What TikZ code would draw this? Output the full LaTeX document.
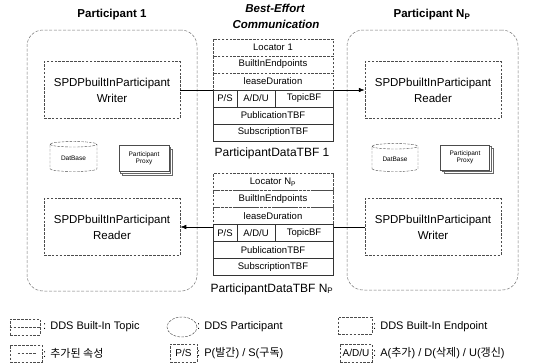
\documentclass[tikz,border=0pt]{standalone}
\usepackage{fontspec}
\setmainfont{Liberation Sans}
\newfontfamily\kr{Noto Sans CJK KR}
\usetikzlibrary{shapes.geometric,shadows,arrows.meta}

\begin{document}
\begin{tikzpicture}[x=1pt,y=-1pt,
  dsh/.style={dash pattern=on 2.6pt off 1.3pt},
  part/.style={draw=black!55, dash pattern=on 3pt off 1.6pt, rounded corners=16pt,
    line width=0.5pt, inner sep=0pt},
  endpt/.style={draw=black!70, dsh, line width=0.5pt, minimum width=136pt,
    minimum height=57pt, inner sep=0pt, align=center,
    font=\fontsize{11.5}{16}\selectfont},
  cellbase/.style={line width=0.45pt, minimum height=17pt, inner sep=0pt,
    fill=white, font=\fontsize{9.5}{11}\selectfont},
  topiccell/.style={cellbase, draw=black!70, dsh},
  addcell/.style={cellbase, draw=black!80},
  wide/.style={minimum width=120pt},
  title/.style={font=\fontsize{11.5}{13}\selectfont\bfseries},
  small/.style={font=\fontsize{6.5}{7.5}\selectfont, align=center},
  lgtext/.style={anchor=west, inner sep=0pt, font=\fontsize{11}{13}\selectfont},
  lgicon/.style={draw=black!70, dsh, line width=0.45pt, inner sep=0pt},
  conn/.style={line width=0.6pt, -{Latex[length=6pt,width=4.5pt]}}
]
\useasboundingbox (0,0) rectangle (541,364);

% ---- headings
\node[title] (h1) at (112,15) {Participant 1};
\node[title] (h2) at (432,15) {Participant N\textsubscript{P}};
\node[title, font=\fontsize{11.5}{13}\selectfont\bfseries\itshape] (hb1) at (275,8) {Best-Effort};
\node[title, font=\fontsize{11.5}{13}\selectfont\bfseries\itshape] (hb2) at (276,24) {Communication};

% ---- participants
\node[part, minimum width=170pt, minimum height=261pt] (p1) at (112,160.5) {};
\node[part, minimum width=171pt, minimum height=260pt] (p2) at (432.5,160) {};

% ---- built-in endpoints
\node[endpt] (lw) at (112,90)  {SPDPbuiltInParticipant\\Writer};
\node[endpt] (lr) at (112,227) {SPDPbuiltInParticipant\\Reader};
\node[endpt] (rr) at (433,90)  {SPDPbuiltInParticipant\\Reader};
\node[endpt] (rw) at (433,227) {SPDPbuiltInParticipant\\Writer};

% ---- database and proxy inside each participant
\node[cylinder, shape border rotate=90, aspect=0.22, draw=black!70, dsh,
  minimum width=47pt, minimum height=30pt, inner sep=0pt, small] (db1) at (73.5,158) {DatBase};
\node[cylinder, shape border rotate=90, aspect=0.22, draw=black!70, dsh,
  minimum width=46pt, minimum height=28pt, inner sep=0pt, small] (db2) at (395,159) {DatBase};
\node[draw=black!70, fill=white, minimum width=50pt, minimum height=26pt, inner sep=0pt, small,
  double copy shadow={shadow xshift=1.6pt, shadow yshift=-1.6pt, draw=black!60, fill=white}]
  (px1) at (144,158.5) {Participant\\Proxy};
\node[draw=black!70, fill=white, minimum width=49pt, minimum height=25pt, inner sep=0pt, small,
  double copy shadow={shadow xshift=1.6pt, shadow yshift=-1.6pt, draw=black!60, fill=white}]
  (px2) at (465,157.5) {Participant\\Proxy};

% ---- connectors (drawn first, the tables cover them)
\draw[conn] (lw.east) -- (rr.west);
\draw[conn] (rw.west) -- (lr.east);

% ---- ParticipantDataTBF 1
\node[topiccell, wide] (a1) at (273,47.5)  {Locator 1};
\node[topiccell, wide] (a2) at (273,64.5)  {BuiltInEndpoints};
\node[topiccell, wide] (a3) at (273,81.5)  {leaseDuration};
\node[addcell, minimum width=24pt] (a4) at (225,98.5) {P/S};
\node[addcell, minimum width=38pt] (a5) at (256,98.5) {A/D/U};
\node[addcell, minimum width=58pt] (a6) at (304,98.5) {TopicBF};
\node[addcell, wide] (a7) at (273,115.5) {PublicationTBF};
\node[addcell, wide] (a8) at (273,132.5) {SubscriptionTBF};
\node[font=\fontsize{12}{14}\selectfont] (la) at (272,153) {ParticipantDataTBF 1};

% ---- ParticipantDataTBF N_P
\node[topiccell, wide] (b1) at (273,182)  {Locator N\textsubscript{P}};
\node[topiccell, wide] (b2) at (273,199)  {BuiltInEndpoints};
\node[topiccell, wide] (b3) at (273,216)  {leaseDuration};
\node[addcell, minimum width=24pt] (b4) at (225,233) {P/S};
\node[addcell, minimum width=38pt] (b5) at (256,233) {A/D/U};
\node[addcell, minimum width=58pt] (b6) at (304,233) {TopicBF};
\node[addcell, wide] (b7) at (273,250) {PublicationTBF};
\node[addcell, wide] (b8) at (273,267) {SubscriptionTBF};
\node[font=\fontsize{12}{14}\selectfont] (lb) at (272,289) {ParticipantDataTBF N\textsubscript{P}};

% ---- legend, first row
\node[lgicon, minimum width=30pt, minimum height=16pt] (k1) at (25,327) {};
\draw[black!70, dsh, line width=0.45pt] (k1.west) -- (k1.east);
\node[lgtext] (t1) at (43,327) {: DDS Built-In Topic};
\node[ellipse, lgicon, minimum width=30pt, minimum height=20pt] (k2) at (182,327) {};
\node[lgtext] (t2) at (197,327) {: DDS Participant};
\node[lgicon, minimum width=34pt, minimum height=17pt] (k3) at (355,325.5) {};
\node[lgtext] (t3) at (373,327) {: DDS Built-In Endpoint};

% ---- legend, second row
\node[lgicon, minimum width=32pt, minimum height=17pt] (k4) at (26,353.5) {};
\draw[black!70, dsh, line width=0.45pt] ([xshift=8pt]k4.west) -- ([xshift=-6pt]k4.east);
\node[lgtext] (t4) at (43,353) {: {\kr 추가된 속성}};
\node[lgicon, minimum width=27pt, minimum height=18pt, font=\fontsize{10}{12}\selectfont] (k5) at (183.5,353) {P/S};
\node[lgtext] (t5) at (197,353) {: P({\kr 발간}) / S({\kr 구독})};
\node[lgicon, minimum width=32pt, minimum height=18pt, font=\fontsize{10}{12}\selectfont] (k6) at (356,353) {A/D/U};
\node[lgtext] (t6) at (373,353) {: A({\kr 추가}) / D({\kr 삭제}) / U({\kr 갱신})};
\end{tikzpicture}
\end{document}
